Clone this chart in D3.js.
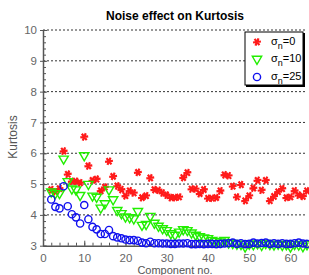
<!DOCTYPE html>
<html>
<head>
<meta charset="utf-8">
<script src="https://cdn.jsdelivr.net/npm/d3@7"></script>
<style>
  body { margin: 0; background: #fff; }
  text { font-family: "Liberation Sans", Arial, sans-serif; }
</style>
</head>
<body>
<svg width="309" height="275"></svg>
<script>
// components 2..64
let comps = d3.range(2, 65)

let sigma0 = [4.82, 4.75, 4.85, 6.07, 5.32, 5.09, 5.09, 5.04, 6.53, 5.59, 5.12, 5.16, 4.78, 4.9,
  5.74, 5.25, 4.94, 4.82, 4.62, 4.78, 4.71, 5.38, 4.56, 4.62, 5.2, 4.82, 4.8, 4.71, 4.64,
  4.56, 4.56, 4.58, 5.21, 5.37, 4.84, 4.84, 4.69, 4.82, 4.54, 4.54, 4.56, 4.78, 5.3, 5.27,
  4.93, 4.58, 4.98, 4.46, 4.62, 4.87, 5.12, 4.8, 5.12, 4.46, 4.6, 4.75, 4.85, 4.56, 4.58,
  4.78, 4.64, 4.6, 4.78]

let sigma10 = [4.75, 4.7, 4.7, 5.82, 5.09, 4.85, 4.82, 4.64, 5.93, 5.0, 4.62, 4.58, 4.23, 4.37,
  4.82, 4.5, 4.15, 4.05, 3.94, 3.92, 3.88, 4.12, 3.67, 3.7, 3.96, 3.74, 3.64, 3.56, 3.5,
  3.4, 3.35, 3.45, 3.53, 3.5, 3.42, 3.35, 3.3, 3.26, 3.24, 3.18, 3.15, 3.13, 3.18, 3.1,
  3.08, 3.06, 3.05, 2.97, 3.06, 3.04, 3.07, 3.02, 3.08, 3.05, 3.03, 3.06, 3.02, 3.04, 2.97,
  3.05, 3.03, 2.98, 3.04]

let sigma25 = [4.5, 4.26, 4.21, 4.93, 4.28, 4.02, 3.92, 3.72, 4.32, 3.86, 3.61, 3.53, 3.38, 3.38,
  3.51, 3.31, 3.27, 3.24, 3.2, 3.18, 3.18, 3.16, 3.1, 3.08, 3.13, 3.08, 3.08, 3.07, 3.07,
  3.06, 3.06, 3.07, 3.07, 3.08, 3.05, 3.05, 3.06, 3.05, 3.06, 3.06, 3.05, 3.06, 3.07, 3.08,
  3.1, 3.06, 3.08, 3.05, 3.06, 3.1, 3.07, 3.09, 3.1, 3.06, 3.08, 3.06, 3.08, 3.06, 3.06,
  3.08, 3.1, 3.07, 3.06]

let xTicks = [0, 10, 20, 30, 40, 50, 60]
let yTicks = [3, 4, 5, 6, 7, 8, 9, 10]
let legendLabels = ["0", "10", "25"]

let svg = d3.select("svg")
let pLeft = 43, pRight = 307, pTop = 30, pBottom = 245.7

let x = d3.scaleLinear().domain([0, 64]).range([pLeft, pRight])
let y = d3.scaleLinear().domain([3, 10]).range([pBottom, pTop])

// title
svg.append("text")
  .attr("x", 175).attr("y", 20)
  .attr("text-anchor", "middle")
  .attr("font-size", "12px")
  .attr("font-weight", "bold")
  .text("Noise effect on Kurtosis")

// dotted gridlines
svg.append("g").selectAll("line")
  .data(yTicks.filter(d => d > 3))
  .enter().append("line")
  .attr("x1", pLeft).attr("x2", pRight)
  .attr("y1", d => y(d)).attr("y2", d => y(d))
  .attr("stroke", "#333")
  .attr("stroke-width", 1)
  .attr("stroke-dasharray", "2,2")

// axes
let gx = svg.append("g").attr("transform", "translate(0," + pBottom + ")")
gx.call(d3.axisBottom(x).tickValues(d3.range(0, 65, 2)).tickSize(-3).tickFormat(""))
gx.select(".domain").remove()
gx.selectAll(".tick line").attr("stroke", "#555")
let gx2 = svg.append("g").attr("transform", "translate(0," + pBottom + ")")
gx2.call(d3.axisBottom(x).tickValues(xTicks).tickFormat(d3.format("d")).tickSizeInner(-5).tickSizeOuter(0).tickPadding(8))
gx2.select(".domain").attr("stroke", "#555").attr("stroke-width", 1.5)
gx2.selectAll(".tick line").attr("stroke", "#555")
gx2.selectAll("text").attr("font-size", "11.5px").attr("fill", "#666")
  .attr("font-family", "Liberation Sans, Arial, sans-serif")

let gy = svg.append("g").attr("transform", "translate(" + pLeft + ",0)")
gy.call(d3.axisLeft(y).tickValues(d3.range(3, 10.01, 0.2)).tickSize(-3).tickFormat(""))
gy.select(".domain").remove()
gy.selectAll(".tick line").attr("stroke", "#555")
let gy2 = svg.append("g").attr("transform", "translate(" + pLeft + ",0)")
gy2.call(d3.axisLeft(y).tickValues(yTicks).tickFormat(d3.format("d")).tickSizeInner(3).tickSizeOuter(0).tickPadding(3))
gy2.select(".domain").attr("stroke", "#555").attr("stroke-width", 1.5)
gy2.selectAll(".tick line").attr("stroke", "#555").attr("x2", 4).attr("x1", -3)
gy2.selectAll("text").attr("font-size", "11.5px").attr("fill", "#666")
  .attr("font-family", "Liberation Sans, Arial, sans-serif")

// axis labels
svg.append("text")
  .attr("x", 175).attr("y", 274)
  .attr("text-anchor", "middle")
  .attr("font-size", "11px").attr("fill", "#555")
  .text("Component no.")

svg.append("text")
  .attr("transform", "translate(17,137) rotate(-90)")
  .attr("text-anchor", "middle")
  .attr("font-size", "12px").attr("fill", "#555")
  .text("Kurtosis")

let star = d3.symbol().type(d3.symbolAsterisk).size(44)
let tri = d3.symbol().type(d3.symbolTriangle).size(38)

// red stars
svg.append("g").selectAll("path")
  .data(comps)
  .enter().append("path")
  .attr("d", star)
  .attr("transform", (d, i) => "translate(" + x(d) + "," + y(sigma0[i]) + ") rotate(22.5)")
  .attr("fill", "none").attr("stroke", "#ff1a1a").attr("stroke-width", 2.2)

// green triangles
svg.append("g").selectAll("path")
  .data(comps)
  .enter().append("path")
  .attr("d", tri)
  .attr("transform", (d, i) => "translate(" + x(d) + "," + y(sigma10[i]) + ") rotate(180)")
  .attr("fill", "none").attr("stroke", "#22ee00").attr("stroke-width", 1.4)

// blue circles
svg.append("g").selectAll("circle")
  .data(comps)
  .enter().append("circle")
  .attr("cx", d => x(d))
  .attr("cy", (d, i) => y(sigma25[i]))
  .attr("r", 3.6)
  .attr("fill", "none").attr("stroke", "#1010ee").attr("stroke-width", 1.4)

// legend
let lg = svg.append("g")
lg.append("rect").attr("x", 246).attr("y", 33).attr("width", 59).attr("height", 54).attr("fill", "#000")
lg.append("rect").attr("x", 245).attr("y", 32).attr("width", 58).attr("height", 53)
  .attr("fill", "#fff").attr("stroke", "#000").attr("stroke-width", 1)

let rows = [42, 59, 77]
lg.append("path").attr("d", star).attr("transform", "translate(257," + rows[0] + ") rotate(22.5)")
  .attr("fill", "none").attr("stroke", "#ff1a1a").attr("stroke-width", 2.2)
lg.append("path").attr("d", tri).attr("transform", "translate(257," + rows[1] + ") rotate(180)")
  .attr("fill", "none").attr("stroke", "#22ee00").attr("stroke-width", 1.4)
lg.append("circle").attr("cx", 257).attr("cy", rows[2]).attr("r", 3.6)
  .attr("fill", "none").attr("stroke", "#1010ee").attr("stroke-width", 1.4)

legendLabels.forEach((lab, i) => {
  let t = lg.append("text").attr("x", 271).attr("y", rows[i] + 3).attr("font-size", "11px")
  t.append("tspan").text("σ")
  t.append("tspan").attr("dy", 4).attr("font-size", "9px").text("n")
  t.append("tspan").attr("dy", -4).text("=" + lab)
})
</script>
</body>
</html>
